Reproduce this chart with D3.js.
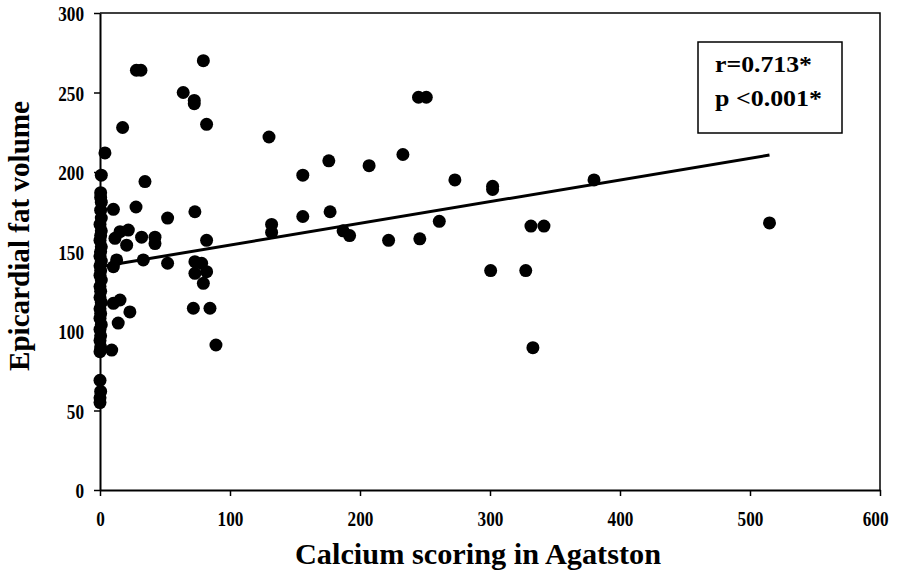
<!DOCTYPE html>
<html><head><meta charset="utf-8">
<script src="https://cdn.jsdelivr.net/npm/d3@7"></script>
<style>body{margin:0;background:#fff}svg{display:block}text{font-family:"Liberation Serif","Times New Roman",serif;font-weight:bold;fill:#000}</style>
</head><body>
<script>
const xValues = [28,31.5,79.5,64,72.5,72.5,17.4,82,130,176,156,207,233,245,251,73,156,177,132,132,187,192,82,222,246,273,302,302,380,261,331.5,341.5,300.5,327.5,333,515,34.6,10.3,27.7,52,15.4,21.8,11.5,20.5,32,42.3,42.3,12.8,33.3,52,10.3,73,78.2,73,82,79.5,23,14,10.3,15.4,71.8,84.6,9,89.2,
  3.8,1,0.5,0.5,1,0.5,1,0,1,0.5,0,1,0.5,0,1,0,0.5,0,1,0,0.5,0,1,0,0.5,0,1,0,0.5,0,0.5,0,0,0.5,0,0];
const yValues = [264,264,270,250,245,243,228,230,222,207,198,204,211,247,247,175,172,175,167,162,163,160,157,157,158,195,191,189,195,169,166,166,138,138,89.5,168,194,176.5,178,171,162.5,163.5,158.3,154,159,159,155,144.7,144.7,142.6,140.4,143.6,142.6,136.3,137.3,130,112,105,117.4,119.5,114.3,114.3,88,91.2,
  212,198,187,184,181,176,171,167,163,160,157,153,150,147,144,141,138,135,132,128,125,121,118,114,111,108,104,101,97,94,90,87,69,62,58,55];
const xTicks = [0,100,200,300,400,500,600];
const yTicks = [0,50,100,150,200,250,300];
const fitX = [0,515];
const fitY = [140.4,210.7];
const statLines = ["r=0.713*","p <0.001*"];
const xTitle = "Calcium scoring in Agatston";
const yTitle = "Epicardial fat volume";

const W=897,H=573;
const svg=d3.select("body").append("svg").attr("width",W).attr("height",H);
svg.append("rect").attr("width",W).attr("height",H).attr("fill","#fff");
const x=d3.scaleLinear().domain([0,600]).range([100,880]);
const y=d3.scaleLinear().domain([0,300]).range([490,13]);

svg.append("path").attr("d",`M${x(0)},${y(300)}H${x(600)}V${y(0)}`).attr("fill","none").attr("stroke","#000").attr("stroke-width",1.5);

const xa=svg.append("g").attr("transform",`translate(0,${y(0)})`).call(d3.axisBottom(x).tickValues(xTicks).tickSize(6).tickSizeOuter(0));
const ya=svg.append("g").attr("transform",`translate(${x(0)},0)`).call(d3.axisLeft(y).tickValues(yTicks).tickSize(6).tickSizeOuter(0));
[xa,ya].forEach(a=>{a.select(".domain").attr("stroke","#000").attr("stroke-width",2);a.selectAll(".tick line").attr("stroke","#000").attr("stroke-width",1.5);
 a.selectAll("text").attr("font-family",'"Liberation Serif",serif').attr("font-weight","bold").attr("font-size",22).attr("fill","#000")
  .attr("textLength",d=>String(d).length*8.6).attr("lengthAdjust","spacingAndGlyphs");});
xa.selectAll("text").attr("dy",0).attr("y",36);
xa.selectAll(".tick").filter(d=>d===600).select("text").attr("text-anchor","end").attr("x",8);
ya.selectAll("text").attr("x",-16).attr("dy","0.35em");

svg.append("g").selectAll("circle").data(xValues.map((d,i)=>[d,yValues[i]])).join("circle")
 .attr("cx",d=>x(d[0])).attr("cy",d=>y(d[1])).attr("r",6.5).attr("fill","#000");

svg.append("line").attr("x1",x(fitX[0])).attr("y1",y(fitY[0])).attr("x2",x(fitX[1])).attr("y2",y(fitY[1])).attr("stroke","#000").attr("stroke-width",3);

svg.append("text").attr("x",478).attr("y",564).attr("text-anchor","middle").attr("font-size",30).attr("textLength",366).attr("lengthAdjust","spacingAndGlyphs").text(xTitle);
svg.append("text").attr("transform","translate(29,236) rotate(-90)").attr("text-anchor","middle").attr("font-size",30).attr("textLength",270).attr("lengthAdjust","spacingAndGlyphs").text(yTitle);

svg.append("rect").attr("x",698).attr("y",42).attr("width",144).attr("height",91).attr("fill","#fff").attr("stroke","#000").attr("stroke-width",1.5);
svg.selectAll(".stat").data(statLines).join("text").attr("class","stat").attr("x",715).attr("y",(d,i)=>72+i*34)
 .attr("font-size",24).attr("textLength",(d,i)=>[97,107][i]).attr("lengthAdjust","spacingAndGlyphs").text(d=>d);
</script>
</body></html>
